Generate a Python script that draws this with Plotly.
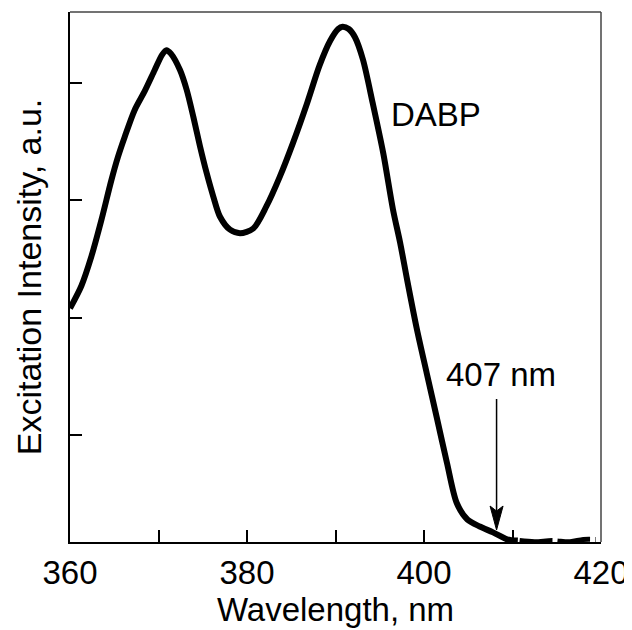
import plotly.graph_objects as go

# Excitation spectrum
wavelength_nm = [360.0, 361.28, 362.41, 363.54, 364.67, 365.42, 366.18, 367.31, 368.44, 369.57,
                 370.4, 370.9, 371.4, 372.43, 373.19, 373.94, 374.69, 375.45, 376.2, 376.95,
                 378.08, 379.21, 380.71, 382.2, 383.7, 385.2, 386.8, 388.2, 389.4, 390.3,
                 390.8, 391.5, 392.2, 393.1, 394.2, 395.4, 396.5, 397.3, 398.1, 399.2,
                 400.3, 401.5, 402.6, 403.7, 404.9, 406.3, 407.8, 409.4, 410.6]
intensity = [2.08, 2.27, 2.52, 2.83, 3.17, 3.37, 3.54, 3.77, 3.93, 4.11,
             4.24, 4.28, 4.25, 4.11, 3.94, 3.71, 3.46, 3.23, 3.03, 2.86,
             2.75, 2.72, 2.76, 2.95, 3.20, 3.49, 3.83, 4.15, 4.36, 4.46,
             4.48, 4.46, 4.39, 4.20, 3.83, 3.40, 2.92, 2.64, 2.32, 1.90,
             1.53, 1.13, 0.76, 0.42, 0.28, 0.22, 0.17, 0.11, 0.10]

# baseline tail (drawn broken)
tail_nm = [410.8, 412.5, 414.5, 416.5, 418.0, 419.4]
tail_intensity = [0.10, 0.09, 0.10, 0.09, 0.11, 0.11]

x_ticks = [360, 370, 380, 390, 400, 410, 420]
x_tick_labels = ["360", "", "380", "", "400", "", "420"]
y_ticks = [1, 2, 3, 4]

series_label = "DABP"
label_nm, label_int = 396.0, 3.73
arrow_nm = 408.2
arrow_tip, arrow_top = 0.19, 1.32
arrow_text = "407 nm"

FONT = "Liberation Sans, Arial, Helvetica, sans-serif"
FS = 33

fig = go.Figure()
fig.add_trace(go.Scatter(x=wavelength_nm, y=intensity, mode="lines",
                         line=dict(color="black", width=6, shape="spline", smoothing=0.8),
                         showlegend=False, hoverinfo="skip"))
fig.add_trace(go.Scatter(x=tail_nm, y=tail_intensity, mode="lines",
                         line=dict(color="black", width=5, shape="spline", dash="33px,5px"),
                         showlegend=False, hoverinfo="skip"))

fig.add_annotation(x=label_nm, y=label_int, text=series_label, showarrow=False,
                   xanchor="left", yanchor="middle", font=dict(size=FS, color="black", family=FONT))
fig.add_annotation(x=arrow_nm, y=arrow_top, text=arrow_text, showarrow=False,
                   xanchor="center", yanchor="bottom", yshift=2, xshift=4,
                   font=dict(size=FS, color="black", family=FONT))
fig.add_annotation(x=arrow_nm, y=arrow_tip + 0.12, ax=arrow_nm, ay=arrow_top,
                   axref="x", ayref="y", text="", showarrow=True,
                   arrowhead=0, arrowwidth=1.5, arrowcolor="black")
# arrow head
fig.add_shape(type="path", xref="x", yref="y", xsizemode="pixel", ysizemode="pixel",
              xanchor=arrow_nm, yanchor=arrow_tip,
              path="M0,0 L-6.5,24 L0,19 L6.5,24 Z",
              fillcolor="black", line=dict(color="black", width=1))
# frame top/right
fig.add_shape(type="line", xref="paper", yref="paper", x0=0, x1=1, y0=1, y1=1,
              line=dict(color="#444", width=1.5))
fig.add_shape(type="line", xref="paper", yref="paper", x0=1, x1=1, y0=0, y1=1,
              line=dict(color="#444", width=1.5))

# the page body has an 8px margin, so the figure is 8px smaller than the window
fig.update_layout(
    width=624, height=622,
    margin=dict(l=62, r=31, t=4, b=88),
    paper_bgcolor="white", plot_bgcolor="white",
    font=dict(family=FONT, size=FS, color="black"),
    xaxis=dict(range=[360, 420], tickvals=x_ticks, ticktext=x_tick_labels,
               ticks="inside", ticklen=12, tickwidth=1.8, tickcolor="black",
               showline=True, linecolor="black", linewidth=2, mirror=False,
               showgrid=False, zeroline=False, ticklabelstandoff=0, automargin=False,
               tickfont=dict(size=FS, family=FONT),
               title=dict(text="Wavelength, nm", standoff=0, font=dict(size=FS, family=FONT))),
    yaxis=dict(range=[0.088, 4.605], tickvals=y_ticks, showticklabels=False,
               ticks="inside", ticklen=12, tickwidth=1.8, tickcolor="black",
               showline=True, linecolor="black", linewidth=2, mirror=False,
               showgrid=False, zeroline=False, automargin=False,
               title=dict(text="Excitation Intensity, a.u.", standoff=16,
                          font=dict(size=34, family=FONT))),
)

fig.write_html("out.html")
